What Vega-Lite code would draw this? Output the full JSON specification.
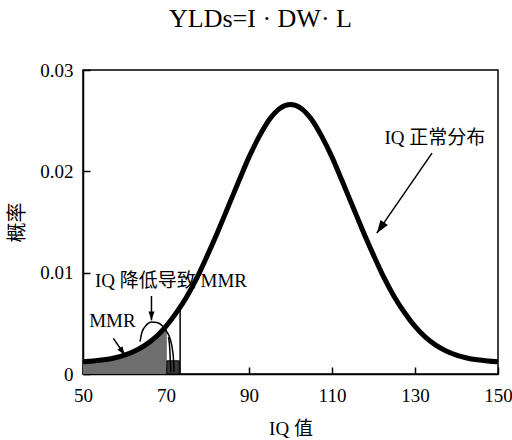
{
  "$schema": "https://vega.github.io/schema/vega-lite/v6.json",
  "width": 415,
  "height": 304,
  "autosize": "none",
  "padding": {"left": 83, "top": 70, "right": 14, "bottom": 66},
  "config": {
    "font": "Liberation Serif, Noto Sans CJK SC",
    "view": {"stroke": "black", "strokeWidth": 1.5},
    "axis": {"grid": false, "domainColor": "black", "domainWidth": 1.5, "tickColor": "black", "tickWidth": 1.5, "labelColor": "black", "titleColor": "black", "labelFontSize": 19, "titleFontSize": 19, "titleFontWeight": "normal", "labelFont": "Liberation Serif, Noto Sans CJK SC", "titleFont": "Liberation Serif, Noto Sans CJK SC"}
  },
  "title": {"text": "YLDs=I · DW· L", "frame": "group", "anchor": "middle", "dx": -30, "offset": 29, "fontSize": 26, "fontWeight": "normal", "color": "black", "font": "Liberation Serif"},
  "datasets": {
    "curve": [
      {"x": 50, "y": 0.0012}, {"x": 52.5, "y": 0.00128}, {"x": 55, "y": 0.0014}, {"x": 57.5, "y": 0.00158},
      {"x": 60, "y": 0.00186}, {"x": 62.5, "y": 0.00227}, {"x": 65, "y": 0.00285}, {"x": 67.5, "y": 0.00364},
      {"x": 70, "y": 0.0047}, {"x": 72.5, "y": 0.00605}, {"x": 75, "y": 0.00763}, {"x": 77.5, "y": 0.00953},
      {"x": 80, "y": 0.01173}, {"x": 82.5, "y": 0.01407}, {"x": 85, "y": 0.01653}, {"x": 87.5, "y": 0.01899},
      {"x": 90, "y": 0.0214}, {"x": 92.5, "y": 0.02347}, {"x": 95, "y": 0.02516}, {"x": 97.5, "y": 0.02623},
      {"x": 100, "y": 0.0266},
      {"x": 102.5, "y": 0.02623}, {"x": 105, "y": 0.02516}, {"x": 107.5, "y": 0.02347}, {"x": 110, "y": 0.0214},
      {"x": 112.5, "y": 0.01899}, {"x": 115, "y": 0.01653}, {"x": 117.5, "y": 0.01407}, {"x": 120, "y": 0.01173},
      {"x": 122.5, "y": 0.00953}, {"x": 125, "y": 0.00763}, {"x": 127.5, "y": 0.00605}, {"x": 130, "y": 0.0047},
      {"x": 132.5, "y": 0.00364}, {"x": 135, "y": 0.00285}, {"x": 137.5, "y": 0.00227}, {"x": 140, "y": 0.00186},
      {"x": 142.5, "y": 0.00158}, {"x": 145, "y": 0.0014}, {"x": 147.5, "y": 0.00128}, {"x": 150, "y": 0.0012}
    ],
    "fill": [
      {"x": 50, "y": 0.0012}, {"x": 52.5, "y": 0.00128}, {"x": 55, "y": 0.0014}, {"x": 57.5, "y": 0.00158},
      {"x": 60, "y": 0.00186}, {"x": 62.5, "y": 0.00227}, {"x": 65, "y": 0.00285}, {"x": 67.5, "y": 0.00364},
      {"x": 70, "y": 0.0047}, {"x": 70.2, "y": 0.0048}
    ],
    "bar": [{"x": 70.2, "x2": 73.2, "y": 0, "y2": 0.0013}],
    "vline": [{"x": 73.4, "y": 0, "y2": 0.0064}],
    "arc": [
      {"seg": "outer", "x": 63.73, "y": 0.00319}, {"seg": "outer", "x": 64.22, "y": 0.00414},
      {"seg": "outer", "x": 65.18, "y": 0.00479}, {"seg": "outer", "x": 66.55, "y": 0.00513},
      {"seg": "outer", "x": 67.83, "y": 0.00508}, {"seg": "outer", "x": 69.04, "y": 0.00479},
      {"seg": "outer", "x": 70.24, "y": 0.00414}, {"seg": "outer", "x": 71.08, "y": 0.00336},
      {"seg": "outer", "x": 71.57, "y": 0.00237}, {"seg": "outer", "x": 71.81, "y": 0.00138},
      {"seg": "outer", "x": 71.93, "y": 0.0002},
      {"seg": "inner", "x": 70.6, "y": 0.00365}, {"seg": "inner", "x": 70.95, "y": 0.0022},
      {"seg": "inner", "x": 71.15, "y": 0.0002}
    ],
    "arrows": [
      {"kind": "large", "x": 134.1, "y": 0.0218, "x2": 120.8, "y2": 0.0139, "angle": 214.5},
      {"kind": "small", "x": 66.5, "y": 0.0077, "x2": 66.5, "y2": 0.0053, "angle": 180},
      {"kind": "small", "x": 57.3, "y": 0.00352, "x2": 60.1, "y2": 0.00187, "angle": 145}
    ],
    "labels": [
      {"x": 71.2, "y": 0.00918, "t": "IQ 降低导致 MMR"},
      {"x": 57.1, "y": 0.00523, "t": "MMR"},
      {"x": 134.8, "y": 0.0233, "t": "IQ 正常分布"}
    ]
  },
  "layer": [
    {
      "data": {"name": "fill"},
      "mark": {"type": "area", "color": "#6e6e6e", "interpolate": "monotone"},
      "encoding": {
        "x": {"field": "x", "type": "quantitative", "scale": {"domain": [50, 150], "nice": false, "zero": false},
          "axis": {"values": [50, 70, 90, 110, 130, 150], "title": "IQ 值", "tickSize": -7, "labelPadding": 19, "labelFlush": false, "titleY": 54, "titleBaseline": "middle"}},
        "y": {"field": "y", "type": "quantitative", "scale": {"domain": [0, 0.03], "nice": false},
          "axis": {"values": [0, 0.01, 0.02, 0.03], "labelExpr": "datum.value == 0 ? '0' : format(datum.value, '.2f')", "title": "概率", "tickSize": -7, "labelPadding": 17, "labelFlush": false, "titleX": -66, "titleY": 152, "titleBaseline": "middle", "titleFontSize": 20}}
      }
    },
    {
      "data": {"name": "bar"},
      "mark": {"type": "rect", "fill": "#3a3a3a", "stroke": "black", "strokeWidth": 1},
      "encoding": {
        "x": {"field": "x", "type": "quantitative"}, "x2": {"field": "x2"},
        "y": {"field": "y", "type": "quantitative"}, "y2": {"field": "y2"}
      }
    },
    {
      "data": {"name": "vline"},
      "mark": {"type": "rule", "color": "black", "strokeWidth": 1.5},
      "encoding": {
        "x": {"field": "x", "type": "quantitative"},
        "y": {"field": "y", "type": "quantitative"}, "y2": {"field": "y2"}
      }
    },
    {
      "data": {"name": "labels"},
      "mark": {"type": "text", "fontSize": 19, "align": "center", "baseline": "middle", "color": "black"},
      "encoding": {
        "x": {"field": "x", "type": "quantitative"},
        "y": {"field": "y", "type": "quantitative"},
        "text": {"field": "t"}
      }
    },
    {
      "data": {"name": "curve"},
      "mark": {"type": "line", "color": "black", "strokeWidth": 5, "interpolate": "monotone"},
      "encoding": {
        "x": {"field": "x", "type": "quantitative"},
        "y": {"field": "y", "type": "quantitative"}
      }
    },
    {
      "data": {"name": "arc"},
      "mark": {"type": "line", "color": "black", "strokeWidth": 1.5, "interpolate": "monotone"},
      "encoding": {
        "x": {"field": "x", "type": "quantitative"},
        "y": {"field": "y", "type": "quantitative"},
        "detail": {"field": "seg"}
      }
    },
    {
      "data": {"name": "arrows"},
      "mark": {"type": "rule", "color": "black", "strokeWidth": 1.5},
      "encoding": {
        "x": {"field": "x", "type": "quantitative"}, "x2": {"field": "x2"},
        "y": {"field": "y", "type": "quantitative"}, "y2": {"field": "y2"}
      }
    },
    {
      "data": {"name": "arrows"},
      "mark": {"type": "point", "filled": true, "color": "black", "opacity": 1, "shape": "M0,0L-0.9,2.6L0.9,2.6Z"},
      "encoding": {
        "x": {"field": "x2", "type": "quantitative"},
        "y": {"field": "y2", "type": "quantitative"},
        "angle": {"field": "angle", "type": "quantitative", "scale": null},
        "size": {"field": "kind", "type": "nominal", "scale": {"domain": ["large", "small"], "range": [100, 45]}, "legend": null}
      }
    }
  ]
}
